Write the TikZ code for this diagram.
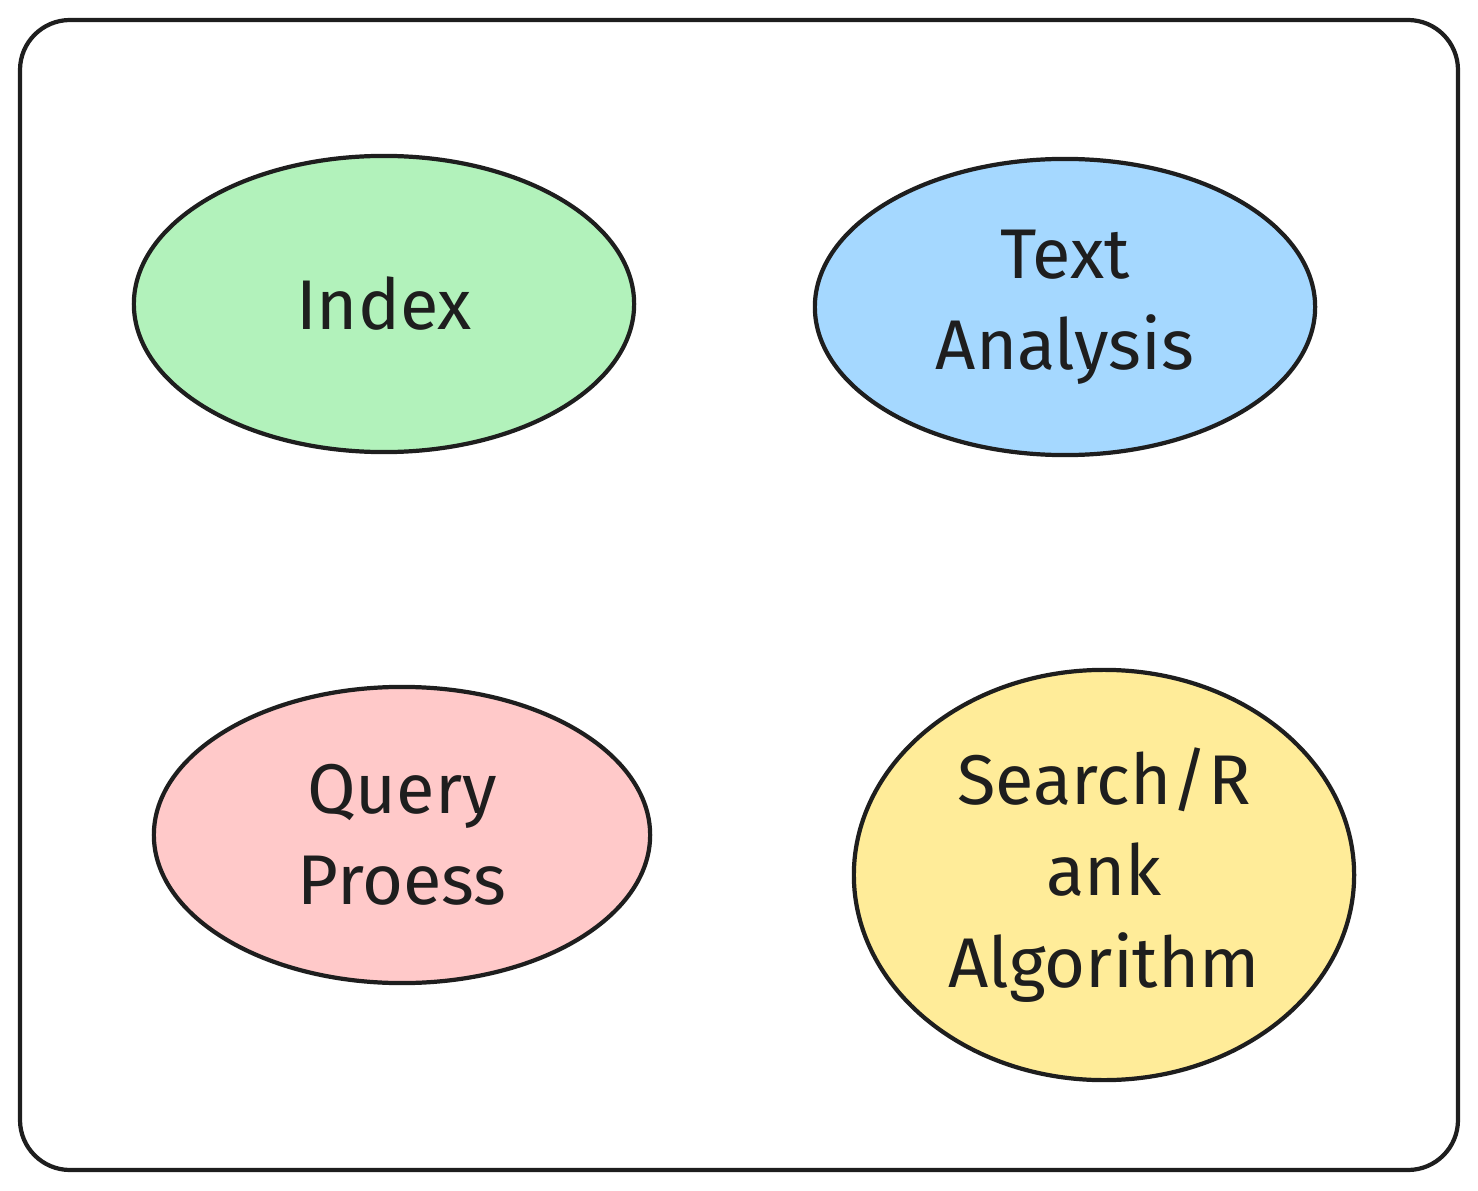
\documentclass[tikz,border=0pt]{standalone}
\usepackage{fontspec}
\setmainfont{Fira Sans}
\usetikzlibrary{shapes.geometric}

\definecolor{ink}{HTML}{1E1E1E}
\definecolor{mint}{HTML}{B2F2BB}
\definecolor{sky}{HTML}{A5D8FF}
\definecolor{rose}{HTML}{FFC9C9}
\definecolor{sand}{HTML}{FFEC99}

\begin{document}
\begin{tikzpicture}[
  x=0.01cm, y=-0.01cm, line width=1.2pt,
  part/.style={draw=ink, ellipse, inner sep=0pt, align=center,
    text=ink, font=\fontsize{20}{26}\selectfont},
  frame/.style={draw=ink, rounded corners=0.5cm}]

  \useasboundingbox (0,0) rectangle (1478,1191);

  % marco
  \draw[frame] (20,20) rectangle (1458,1170);

  % componentes
  \node[part, fill=mint, minimum width=5cm, minimum height=2.96cm]
    (index) at (384,304) {Index};
  \node[part, fill=sky, minimum width=5cm, minimum height=2.96cm]
    (text) at (1065,307) {Text\\Analysis};
  \node[part, fill=rose, minimum width=4.96cm, minimum height=2.96cm]
    (query) at (402,835) {Query\\Proess};
  \node[part, fill=sand, minimum width=5cm, minimum height=4.1cm]
    (search) at (1104,875) {Search/R\\ank\\Algorithm};
\end{tikzpicture}
\end{document}
